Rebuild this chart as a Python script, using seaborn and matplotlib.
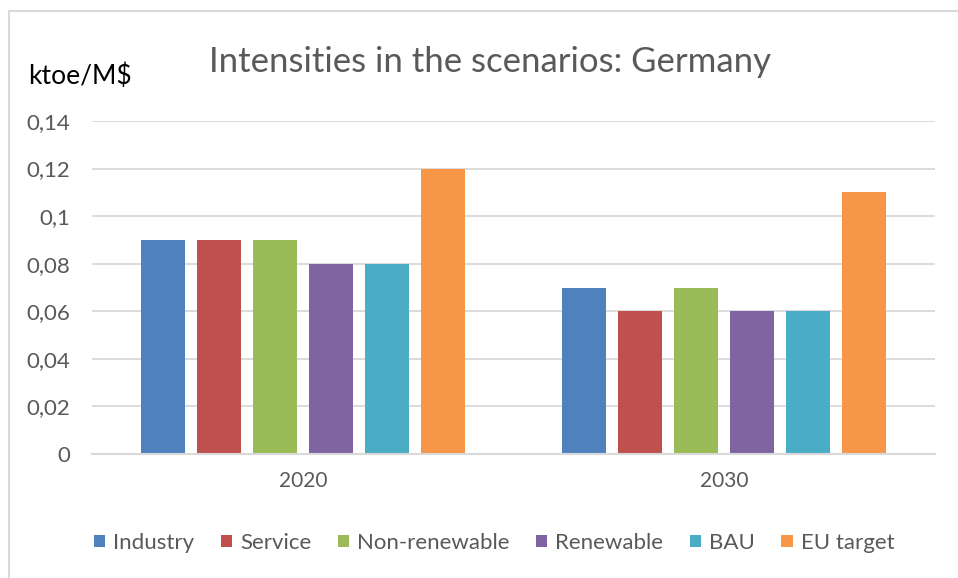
import matplotlib
matplotlib.use("Agg")
import matplotlib.pyplot as plt
from matplotlib.lines import Line2D
import seaborn as sns
import pandas as pd

years = ["2020", "2030"]
scenarios = ["Industry", "Service", "Non-renewable", "Renewable", "BAU", "EU target"]
industry = [0.09, 0.07]
service = [0.09, 0.06]
non_renewable = [0.09, 0.07]
renewable = [0.08, 0.06]
bau = [0.08, 0.06]
eu_target = [0.12, 0.11]
y_ticks = [0, 0.02, 0.04, 0.06, 0.08, 0.10, 0.12, 0.14]
y_tick_labels = ["0", "0,02", "0,04", "0,06", "0,08", "0,1", "0,12", "0,14"]

colors = ["#4F81BD", "#C0504D", "#9BBB59", "#8064A2", "#4BACC6", "#F79646"]

series = [industry, service, non_renewable, renewable, bau, eu_target]
rows = []
for name, vals in zip(scenarios, series):
    for yr, v in zip(years, vals):
        rows.append({"Year": yr, "Scenario": name, "Value": v})
df = pd.DataFrame(rows)

sns.set_theme(style="white")
plt.rcParams["font.family"] = ["Lato", "DejaVu Sans"]

W, H = 958, 578
fig = plt.figure(figsize=(W / 100, H / 100), dpi=100)
ax = fig.add_axes([92 / W, 1 - 454 / H, (935 - 92) / W, (454 - 121) / H])

sns.barplot(data=df, x="Year", y="Value", hue="Scenario", order=years,
            hue_order=scenarios, palette=colors, width=0.797, gap=0.214,
            saturation=1, linewidth=0, legend=True, ax=ax, zorder=3)

ax.set_ylim(0, 0.14)
ax.set_xlim(-0.5, 1.5)
ax.set_yticks(y_ticks)
ax.set_yticklabels(y_tick_labels)
ax.set_xlabel("")
ax.set_ylabel("")
grid_c = "#D9D9D9"
ax.yaxis.grid(True, color=grid_c, linewidth=1.3, zorder=0)
ax.set_axisbelow(True)
for s in ["top", "right", "left"]:
    ax.spines[s].set_visible(False)
ax.spines["bottom"].set_color(grid_c)
ax.spines["bottom"].set_linewidth(1.5)
ax.spines["bottom"].set_zorder(4)
ax.tick_params(axis="y", length=0, pad=15.5, labelsize=16, labelcolor="#595959")
ax.tick_params(axis="x", length=0, pad=12, labelsize=15, labelcolor="#595959")

handles, labels = ax.get_legend_handles_labels()
ax.get_legend().remove()
fig.legend(handles, labels, loc="center", bbox_to_anchor=(494 / W, 1 - 543 / H),
           ncol=6, frameon=False, fontsize=16, labelcolor="#595959",
           handlelength=0.5, handleheight=0.5, handletextpad=0.36,
           columnspacing=1.2, borderaxespad=0)

fig.text(490 / W, 1 - 62 / H, "Intensities in the scenarios: Germany",
         ha="center", va="center", fontsize=25, color="#595959")
fig.text(28 / W, 1 - 76 / H, "ktoe/M$", ha="left", va="center",
         fontsize=19, color="black")

# outer chart frame (left and top edges)
fig.add_artist(Line2D([9 / W, 9 / W], [0, 1 - 11 / H], transform=fig.transFigure,
                      color="#D9D9D9", linewidth=1.5))
fig.add_artist(Line2D([9 / W, 1], [1 - 11 / H, 1 - 11 / H], transform=fig.transFigure,
                      color="#D9D9D9", linewidth=1.5))

fig.savefig("out.png", dpi=100)
